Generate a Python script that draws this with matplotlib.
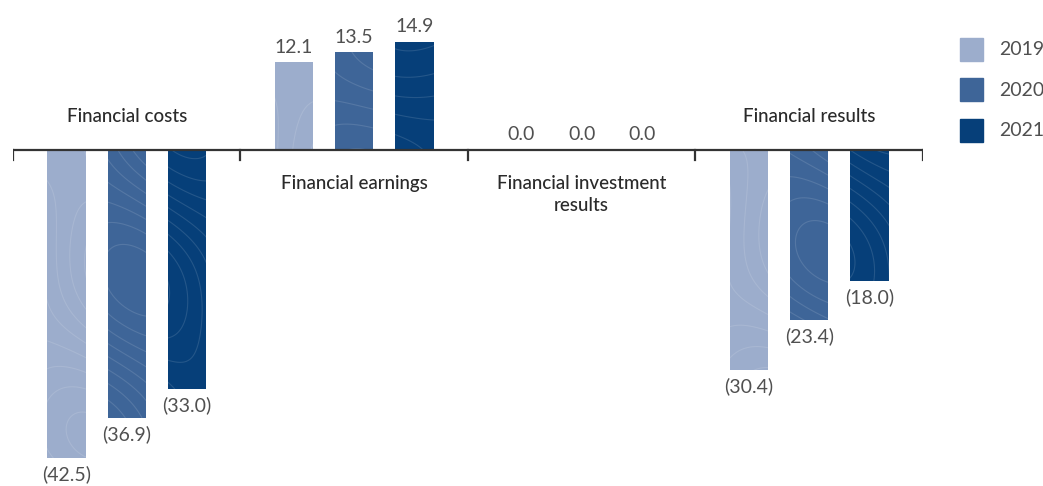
import numpy as np
import matplotlib.pyplot as plt
from matplotlib.patches import Rectangle

categories = ["Financial costs", "Financial earnings", "Financial investment\nresults", "Financial results"]
years = ["2019", "2020", "2021"]
values_2019 = [-42.5, 12.1, 0.0, -30.4]
values_2020 = [-36.9, 13.5, 0.0, -23.4]
values_2021 = [-33.0, 14.9, 0.0, -18.0]
colors = ["#9cadcc", "#3e6598", "#063f79"]

series = [values_2019, values_2020, values_2021]

fig = plt.figure(figsize=(10.43, 4.86), dpi=100)
ax = fig.add_axes([13 / 1043, 0, 910 / 1043, 1])
ax.set_xlim(-0.5, 3.5)
ax.set_ylim(-46.34, 20.69)
ax.axis("off")

value_font = dict(family="Lato", fontweight="normal", fontsize=14, color="#505050")
cat_font = dict(family="Lato", fontweight="medium", fontsize=13.5, color="#2a2a2a")

offset = 0.265
width = 0.168
x = np.arange(len(categories))

# smooth field used for the faint topographic texture inside the bars
gx, gy = np.meshgrid(np.linspace(-0.5, 3.5, 500), np.linspace(-46.34, 20.69, 400))
field = (np.sin(gx * 4.1 + gy * 0.09) + 0.8 * np.cos(gx * 2.3 - gy * 0.17)
         + 0.6 * np.sin(gy * 0.11 + gx * 6.0))

for i, (vals, col) in enumerate(zip(series, colors)):
    xs = x + (i - 1) * offset
    bars = ax.bar(xs, vals, width=width, color=col, zorder=2)
    for bar in bars:
        if bar.get_height() == 0:
            continue
        cs = ax.contour(gx, gy, field, levels=np.linspace(-2.0, 2.0, 9),
                        colors="white", linewidths=0.8, linestyles="solid",
                        alpha=0.12, zorder=2.5)
        cs.set_clip_path(bar)
    for xi, v in zip(xs, vals):
        if v > 0:
            ax.text(xi, v + 0.9, f"{v:.1f}", ha="center", va="bottom", **value_font)
        elif v < 0:
            ax.text(xi, v - 1.0, f"({abs(v):.1f})", ha="center", va="top", **value_font)
        else:
            ax.text(xi, 0.9, f"{v:.1f}", ha="center", va="bottom", **value_font)

# baseline with group separators
ax.plot([-0.5, 3.5], [0, 0], color="#333333", lw=1.6, zorder=3, solid_capstyle="butt")
for b in np.arange(-0.5, 3.6, 1.0):
    ax.plot([b, b], [0, -1.4], color="#333333", lw=1.6, zorder=3)

# category names: above the line for negative groups, below for positive ones
for xi, name, v in zip(x, categories, values_2019):
    if v < 0:
        ax.text(xi, 3.4, name, ha="center", va="bottom", **cat_font)
    else:
        ax.text(xi, -3.4, name, ha="center", va="top", linespacing=1.4, **cat_font)

# legend
lax = fig.add_axes([0, 0, 1, 1])
lax.set_xlim(0, 1043)
lax.set_ylim(486, 0)
lax.axis("off")
for j, (yr, col) in enumerate(zip(years, colors)):
    top = 38 + j * 40.5
    lax.add_patch(Rectangle((960, top), 23, 23, color=col))
    lax.text(999, top + 11.5, yr, ha="left", va="center", **value_font)

fig.savefig("out.png", dpi=100)
